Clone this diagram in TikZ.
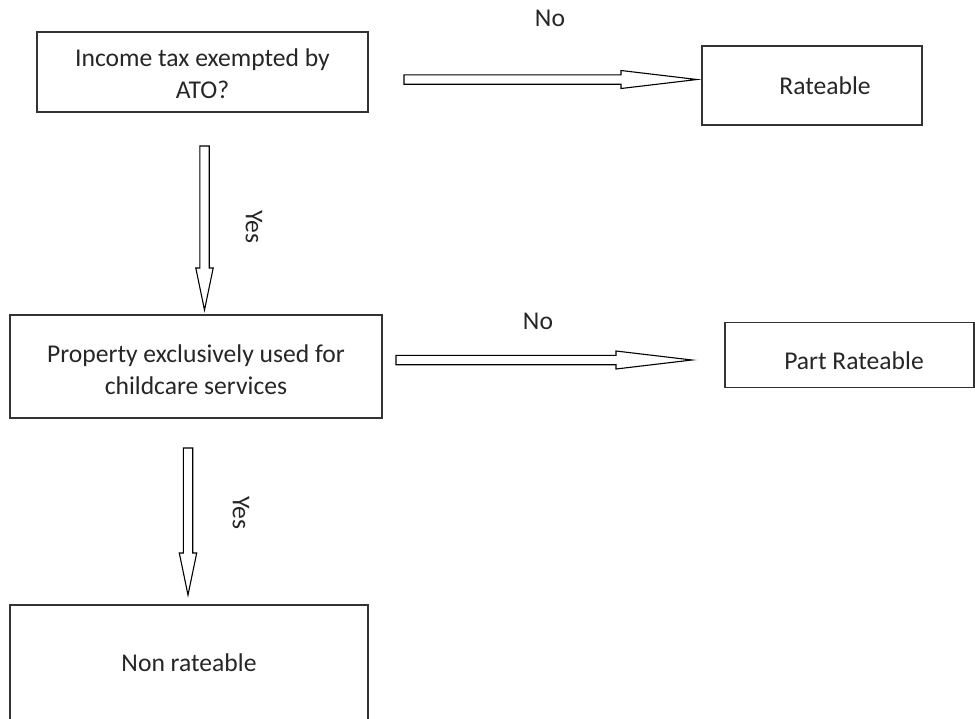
\documentclass[tikz,border=0pt]{standalone}
\usepackage{fontspec}
\setmainfont{Carlito}
\usepackage{tikz}
\usetikzlibrary{calc}
\usetikzlibrary{arrows}
\tikzset{
	main node/.style={rectangle,draw=black!80,line width=1.2pt,text=black!85,align=center,font=\fontsize{25.6}{32}\selectfont,inner sep=0pt},
	label node/.style={text=black!85,font=\fontsize{25.6}{32}\selectfont,inner sep=0pt},
	hblock/.style={draw,line width=1.1pt,fill=white,line join=miter,to path={
		($(\tikztostart)+(0,-4.7)$) -- ($(\tikztotarget)+(-76,-4.7)$) -- ($(\tikztotarget)+(-76,-9)$) -- (\tikztotarget)
		-- ($(\tikztotarget)+(-76,9)$) -- ($(\tikztotarget)+(-76,4.7)$) -- ($(\tikztostart)+(0,4.7)$) -- cycle}},
	vblock/.style={draw,line width=1.1pt,fill=white,line join=miter,to path={
		($(\tikztostart)+(-4.7,0)$) -- ($(\tikztotarget)+(-4.7,-42)$) -- ($(\tikztotarget)+(-8.7,-42)$) -- (\tikztotarget)
		-- ($(\tikztotarget)+(8.7,-42)$) -- ($(\tikztotarget)+(4.7,-42)$) -- ($(\tikztostart)+(4.7,0)$) -- cycle}}
}

\begin{document}
\begin{tikzpicture}[x=1pt,y=-1pt]
      \clip (0,0) rectangle (975,718);

      \node[main node,minimum width=331pt,minimum height=80pt] (1) at (202.5,72) {\rule{0pt}{22pt}Income tax exempted by\\ATO?};
      \node[main node,minimum width=220pt,minimum height=79pt] (2) at (812,85.5) {\hspace*{26pt}Rateable};
      \node[main node,minimum width=372pt,minimum height=103pt] (3) at (196,366.5) {\rule{0pt}{24pt}Property exclusively used for\\childcare services};
      \node[main node,minimum width=249pt,minimum height=65pt,text height=29pt,text depth=0pt] (4) at (849.5,355) {\hspace*{9pt}Part Rateable};
      \node[main node,minimum width=358pt,minimum height=116pt] (5) at (189,663) {Non rateable};

      \coordinate (a1) at (204.5,146);
      \coordinate (b1) at (204.5,310);
      \coordinate (a2) at (404,79.5);
      \coordinate (b2) at (697,79.5);
      \coordinate (a3) at (396,360);
      \coordinate (b3) at (692,360);
      \coordinate (a4) at (188,448);
      \coordinate (b4) at (188,595);

      \path
        (a1) edge[vblock] (b1)
        (a2) edge[hblock] (b2)
        (a3) edge[hblock] (b3)
        (a4) edge[vblock] (b4);

      \node[label node] (no1) at (550,18) {No};
      \node[label node] (no2) at (538,321) {No};
      \node[label node,rotate=-90] (yes1) at (254,227) {Yes};
      \node[label node,rotate=-90] (yes2) at (241,513) {Yes};
    \end{tikzpicture}
\end{document}
